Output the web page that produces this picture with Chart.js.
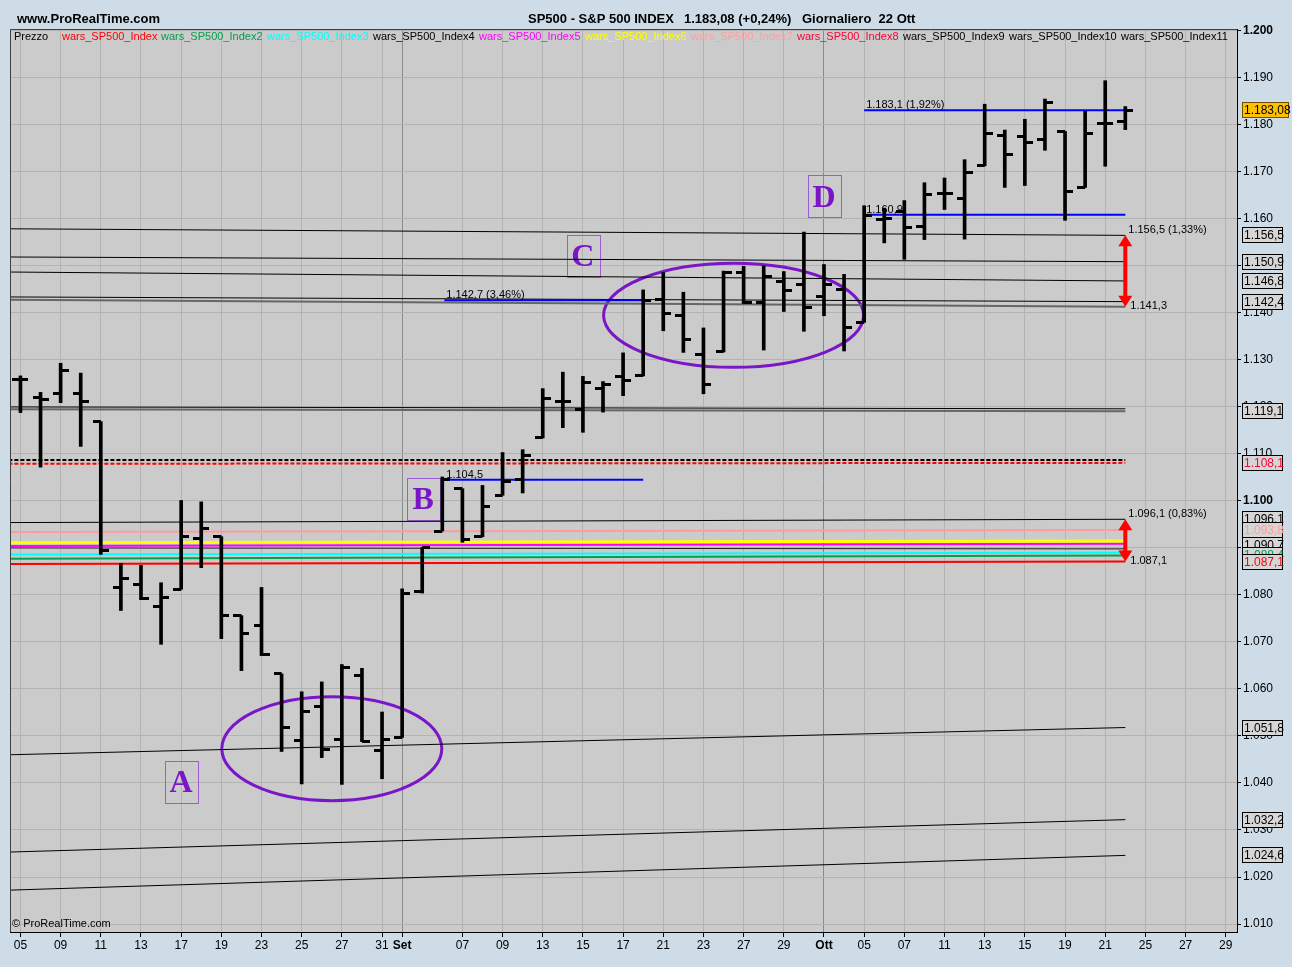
<!DOCTYPE html>
<html>
<head>
<meta charset="utf-8">
<script src="https://cdn.jsdelivr.net/npm/chart.js@4.4.1/dist/chart.umd.min.js"></script>
<style>
  html, body { margin: 0; padding: 0; background: #cddce6; }
  #c { display: block; }
</style>
</head>
<body>
<canvas id="c" width="1292" height="967"></canvas>
<script>
// --- dati giornalieri SP500 (5 ago - 22 ott) ---
const days = ['05/08','06/08','09/08','10/08','11/08','12/08','13/08','16/08','17/08','18/08','19/08','20/08','23/08','24/08','25/08','26/08','27/08','30/08','31/08',
  '01/09','02/09','03/09','07/09','08/09','09/09','10/09','13/09','14/09','15/09','16/09','17/09','20/09','21/09','22/09','23/09','24/09','27/09','28/09','29/09','30/09',
  '01/10','04/10','05/10','06/10','07/10','08/10','11/10','12/10','13/10','14/10','15/10','18/10','19/10','20/10','21/10','22/10'];
const opens  = [1125.8,1122.1,1122.8,1122.9,1116.9,1081.5,1082.2,1077.5,1081.2,1092.1,1092.4,1075.6,1073.4,1063.2,1049.0,1056.3,1049.3,1062.9,1046.9,
  1049.7,1080.7,1093.6,1102.6,1092.4,1101.2,1104.6,1113.4,1121.2,1119.4,1123.9,1126.4,1126.6,1142.8,1139.5,1131.1,1131.7,1148.6,1142.3,1146.6,1146.0,
  1143.5,1145.0,1138.0,1159.8,1161.6,1158.4,1165.3,1164.3,1171.3,1177.8,1177.5,1176.8,1178.6,1166.7,1180.3,1180.7];
const highs  = [1126.6,1123.1,1129.3,1127.2,1116.9,1086.7,1086.3,1082.6,1100.1,1099.8,1092.4,1075.6,1081.6,1063.2,1059.4,1061.5,1065.2,1064.4,1055.1,
  1081.3,1090.1,1105.1,1102.6,1103.3,1110.3,1110.9,1123.9,1127.4,1126.5,1125.4,1131.5,1144.9,1148.6,1144.4,1136.8,1148.9,1149.9,1150.0,1148.8,1157.2,
  1150.3,1148.2,1162.8,1162.3,1163.9,1167.7,1168.7,1172.6,1184.4,1178.9,1181.2,1185.5,1178.6,1182.9,1189.4,1183.9];
const lows   = [1118.8,1107.2,1120.9,1111.6,1088.6,1076.7,1079.0,1069.5,1081.2,1085.8,1070.7,1063.9,1067.1,1046.7,1039.8,1045.4,1039.7,1048.8,1040.9,
  1049.7,1080.4,1093.6,1091.2,1092.4,1101.2,1101.7,1113.4,1115.6,1114.6,1118.9,1122.4,1126.6,1136.2,1131.6,1122.8,1131.7,1142.0,1132.1,1140.3,1136.1,
  1139.4,1131.9,1138.0,1154.9,1151.4,1155.6,1162.0,1155.7,1171.3,1166.7,1167.1,1174.6,1159.7,1166.7,1171.2,1179.0];
const closes = [1125.8,1121.6,1127.8,1121.1,1089.5,1083.6,1079.3,1079.4,1092.5,1094.2,1075.6,1071.7,1067.4,1051.9,1055.3,1047.2,1064.6,1048.9,1049.3,
  1080.3,1090.1,1104.5,1091.8,1098.9,1104.2,1109.6,1121.9,1121.1,1125.1,1124.7,1125.6,1142.7,1139.8,1134.3,1124.8,1148.7,1142.2,1147.7,1144.7,1141.2,
  1146.1,1137.0,1160.8,1160.0,1158.1,1165.2,1165.3,1169.8,1178.1,1173.8,1176.2,1184.7,1165.9,1178.2,1180.3,1183.1];

// --- asse tempi e prezzi ---
const tickIdx    = [0,2,4,6,8,10,12,14,16,18,19,22,24,26,28,30,32,34,36,38,40,42,44,46,48,50,52,54,56,58,60];
const tickLabels = ['05','09','11','13','17','19','23','25','27','31','Set','07','09','13','15','17','21','23','27','29','Ott','05','07','11','13','15','19','21','25','27','29'];
const yTicks = [1010,1020,1030,1040,1050,1060,1070,1080,1090,1100,1110,1120,1130,1140,1150,1160,1170,1180,1190,1200];

// --- livelli wars (valore a inizio periodo, valore al 22 ott) ---
const warsFrom = [1157.9,1151.9,1148.7,1143.4,1142.8,1120.0,1119.5,1108.7,1107.9,1095.4,1093.4,1091.1,1090.4,1090.0,1088.6,1087.7,1086.6,1046.0,1025.3,1017.2];
const warsTo   = [1156.5,1150.9,1146.8,1142.4,1141.3,1119.6,1119.1,1108.7,1108.1,1096.1,1093.8,1091.5,1090.9,1089.8,1089.0,1088.4,1087.1,1051.8,1032.2,1024.6];
const warsColor = ['#000','#000','#000','#000','#666','#000','#666','#000','#ff0000','#000','#ff9c9c','#ffff00','#ff00ff','#202020','#00ffff','#00a050','#ff0000','#000','#000','#000'];
const warsWidth = [1,1,1,1,2,1,2,2,2,1,2,3,2,1,2,2,2,1,1,1];
const warsDash  = [0,0,0,0,0,0,0,1,1,0,0,0,0,0,0,0,0,0,0,0];

// --- linee blu (inizio, fine, valore) ---
const blueFrom  = [21.1, 21.1, 42, 42];
const blueTo    = [31, 31, 55.3, 55];
const blueValue = [1142.7, 1104.5, 1183.1, 1160.9];
const blueText  = ['1.142,7 (3,46%)', '1.104,5', '1.183,1 (1,92%)', '1.160,9'];

// --- etichette a destra ---
const boxValues = [1156.5,1150.9,1146.8,1142.4,1119.1,1108.1,1096.1,1093.8,1090.7,1088.4,1087.1,1051.8,1032.2,1024.6];
const boxColors = ['#000','#000','#000','#000','#000','#ff0033','#000','#ff9c9c','#000','#00a050','#ff0000','#000','#000','#000'];
const lastPrice = 1183.08;

const legendText  = ['Prezzo','wars_SP500_Index','wars_SP500_Index2','wars_SP500_Index3','wars_SP500_Index4','wars_SP500_Index5','wars_SP500_Index6','wars_SP500_Index7','wars_SP500_Index8','wars_SP500_Index9','wars_SP500_Index10','wars_SP500_Index11'];
const legendColor = ['#000','#ff0000','#00a050','#00ffff','#000','#ff00ff','#ffff00','#ffa0a0','#ff0033','#000','#000','#000'];
const legendX     = [14,62,161,267,373,479,585,691,797,903,1009,1121];

function fmtIt(v, dec) {
  const s = v.toFixed(dec).split('.');
  const int = s[0].length > 3 ? s[0].slice(0, -3) + '.' + s[0].slice(-3) : s[0];
  return dec ? int + ',' + s[1] : int;
}

function tickImage(side) {
  const c = document.createElement('canvas');
  c.width = 16; c.height = 3;
  const g = c.getContext('2d');
  g.fillStyle = '#000';
  if (side === 'left') g.fillRect(0, 0, 8, 3); else g.fillRect(8, 0, 8, 3);
  return c;
}

const PURPLE = '#7a16c8';
const shapes = {
  ellipses: [ { x: 15.5, y: 1047.3, rx: 110, ry: 52 }, { x: 35.5, y: 1139.5, rx: 130, ry: 52 } ],
  letters: [ { t: 'A', x: 8.0, y: 1040.2 }, { t: 'B', x: 20.05, y: 1100.4 }, { t: 'C', x: 28.0, y: 1152.1 }, { t: 'D', x: 40.0, y: 1164.8 } ],
  arrows: [ { x: 55, top: 1156.5, bottom: 1141.3, t1: '1.156,5 (1,33%)', t2: '1.141,3' },
            { x: 55, top: 1096.1, bottom: 1087.1, t1: '1.096,1 (0,83%)', t2: '1.087,1' } ]
};

const proreal = {
  id: 'proreal',
  beforeDraw(chart) {
    const { ctx, chartArea: a } = chart;
    ctx.save();
    ctx.fillStyle = '#cddce6';
    ctx.fillRect(0, 0, chart.width, chart.height);
    ctx.fillStyle = '#cbcbcb';
    ctx.fillRect(a.left, a.top, a.right - a.left, a.bottom - a.top);
    ctx.restore();
  },
  beforeDatasetsDraw(chart) {
    const { ctx, scales: { x, y } } = chart;
    ctx.save();
    ctx.strokeStyle = PURPLE;
    ctx.lineWidth = 3;
    shapes.ellipses.forEach(e => {
      ctx.beginPath();
      ctx.ellipse(x.getPixelForValue(e.x), y.getPixelForValue(e.y), e.rx, e.ry, 0, 0, Math.PI * 2);
      ctx.stroke();
    });
    shapes.letters.forEach(l => {
      const px = x.getPixelForValue(l.x), py = y.getPixelForValue(l.y);
      ctx.lineWidth = 1;
      ctx.strokeStyle = '#9c5cd6';
      ctx.strokeRect(Math.round(px - 16) + 0.5, Math.round(py - 21) + 0.5, 33, 42);
      ctx.fillStyle = PURPLE;
      ctx.font = 'bold 32px "Liberation Serif"';
      ctx.textAlign = 'center';
      ctx.textBaseline = 'middle';
      ctx.fillText(l.t, px, py + 2);
    });
    ctx.restore();
  },
  afterDatasetsDraw(chart) {
    const { ctx, scales: { x, y } } = chart;
    ctx.save();
    ctx.font = '11px "Liberation Sans"';
    ctx.textBaseline = 'middle';
    ctx.fillStyle = '#000';
    blueText.forEach((t, i) => {
      ctx.fillText(t, x.getPixelForValue(blueFrom[i]) + 2, y.getPixelForValue(blueValue[i]) - 5);
    });
    shapes.arrows.forEach(r => {
      const px = x.getPixelForValue(r.x);
      const y1 = y.getPixelForValue(r.top), y2 = y.getPixelForValue(r.bottom);
      ctx.strokeStyle = '#ff0000';
      ctx.fillStyle = '#ff0000';
      ctx.lineWidth = 4;
      ctx.beginPath(); ctx.moveTo(px, y1 + 8); ctx.lineTo(px, y2 - 8); ctx.stroke();
      ctx.beginPath(); ctx.moveTo(px, y1); ctx.lineTo(px - 7, y1 + 11); ctx.lineTo(px + 7, y1 + 11); ctx.closePath(); ctx.fill();
      ctx.beginPath(); ctx.moveTo(px, y2); ctx.lineTo(px - 7, y2 - 11); ctx.lineTo(px + 7, y2 - 11); ctx.closePath(); ctx.fill();
      ctx.fillStyle = '#000';
      ctx.fillText(r.t1, px + 3, y1 - 5);
      ctx.fillText(r.t2, px + 5, y2 - 1);
    });
    ctx.restore();
  },
  afterDraw(chart) {
    const { ctx, chartArea: a, scales: { y } } = chart;
    ctx.save();
    // cornice
    ctx.strokeStyle = '#404040';
    ctx.lineWidth = 1;
    ctx.beginPath();
    ctx.moveTo(a.left + 0.5, a.bottom); ctx.lineTo(a.left + 0.5, a.top + 0.5); ctx.lineTo(a.right, a.top + 0.5);
    ctx.stroke();
    // intestazione
    ctx.fillStyle = '#000';
    ctx.textBaseline = 'middle';
    ctx.font = 'bold 13px "Liberation Sans"';
    ctx.fillText('www.ProRealTime.com', 17, 19);
    ctx.fillText('SP500 - S&P 500 INDEX', 528, 19);
    ctx.fillText('1.183,08 (+0,24%)', 684, 19);
    ctx.fillText('Giornaliero  22 Ott', 802, 19);
    // legenda
    ctx.save();
    ctx.beginPath(); ctx.rect(a.left, a.top, a.right - a.left - 5, 20); ctx.clip();
    ctx.font = '11px "Liberation Sans"';
    legendText.forEach((t, i) => {
      ctx.fillStyle = legendColor[i];
      ctx.fillText(t, legendX[i], 37);
    });
    ctx.restore();
    ctx.fillStyle = '#000';
    ctx.font = '11px "Liberation Sans"';
    ctx.fillText('\u00a9 ProRealTime.com', a.left + 2, a.bottom - 8);
    // riquadri a destra
    ctx.font = '12px "Liberation Sans"';
    boxValues.forEach((v, i) => {
      const py = Math.round(y.getPixelForValue(v));
      ctx.fillStyle = '#d6d6d6';
      ctx.fillRect(1242, py - 8, 41, 16);
      ctx.strokeStyle = '#000';
      ctx.strokeRect(1242.5, py - 7.5, 40, 15);
      ctx.fillStyle = boxColors[i];
      ctx.fillText(fmtIt(v, 1), 1244, py + 1);
    });
    const pp = Math.round(y.getPixelForValue(lastPrice));
    ctx.fillStyle = '#ffc000';
    ctx.fillRect(1242, pp - 8, 47, 16);
    ctx.strokeStyle = '#705000';
    ctx.strokeRect(1242.5, pp - 7.5, 46, 15);
    ctx.fillStyle = '#000';
    ctx.fillText(fmtIt(lastPrice, 2), 1244, pp + 1);
    ctx.restore();
  }
};

const datasets = [
  {
    type: 'bar',
    data: days.map((d, i) => ({ x: i, y: [lows[i], highs[i]] })),
    backgroundColor: '#000',
    barThickness: 3,
    borderWidth: 0,
    borderSkipped: false,
    grouped: false
  },
  {
    type: 'scatter',
    data: days.map((d, i) => ({ x: i, y: opens[i] })),
    pointStyle: tickImage('left'),
    pointRadius: 1
  },
  {
    type: 'scatter',
    data: days.map((d, i) => ({ x: i, y: closes[i] })),
    pointStyle: tickImage('right'),
    pointRadius: 1
  }
];

blueValue.forEach((v, i) => {
  datasets.push({
    type: 'line',
    data: [{ x: blueFrom[i], y: v }, { x: blueTo[i], y: v }],
    borderColor: '#0000ff',
    borderWidth: 2,
    pointRadius: 0
  });
});

warsFrom.forEach((v, i) => {
  datasets.push({
    type: 'line',
    data: [{ x: -0.6, y: v }, { x: 55, y: warsTo[i] }],
    borderColor: warsColor[i],
    borderWidth: warsWidth[i],
    borderDash: warsDash[i] ? [4, 2] : [],
    pointRadius: 0
  });
});

new Chart(document.getElementById('c').getContext('2d'), {
  type: 'bar',
  data: { datasets: datasets },
  options: {
    responsive: false,
    animation: false,
    devicePixelRatio: 1,
    layout: { padding: { left: 10, top: 29, right: 0, bottom: 0 } },
    plugins: { legend: { display: false }, tooltip: { enabled: false } },
    scales: {
      x: {
        type: 'linear',
        min: -0.52,
        max: 60.56,
        offset: false,
        afterBuildTicks: s => { s.ticks = tickIdx.map(v => ({ value: v })); },
        afterFit: s => { s.height = 35; },
        ticks: {
          autoSkip: false,
          maxRotation: 0,
          color: '#000',
          padding: 1,
          font: c => ({ family: 'Liberation Sans', size: 12, weight: c.tick && (c.tick.value === 19 || c.tick.value === 40) ? 'bold' : 'normal' }),
          callback: v => tickLabels[tickIdx.indexOf(v)]
        },
        grid: {
          offset: false,
          color: c => c.tick && (c.tick.value === 19 || c.tick.value === 40) ? '#8a8a8a' : '#b3b3b3',
          tickColor: '#000',
          tickLength: 5
        },
        border: { color: '#000', width: 1 }
      },
      y: {
        type: 'linear',
        position: 'right',
        min: 1008.3,
        max: 1200.4,
        beginAtZero: false,
        afterBuildTicks: s => { s.ticks = yTicks.map(v => ({ value: v })); },
        afterFit: s => { s.width = 55; },
        ticks: {
          color: '#000',
          padding: 2,
          font: c => ({ family: 'Liberation Sans', size: 12, weight: c.tick && (c.tick.value === 1100 || c.tick.value === 1200) ? 'bold' : 'normal' }),
          callback: v => fmtIt(v, 0)
        },
        grid: { color: '#b3b3b3', tickColor: '#000', tickLength: 4 },
        border: { color: '#000', width: 1 }
      }
    }
  },
  plugins: [proreal]
});
</script>
</body>
</html>
